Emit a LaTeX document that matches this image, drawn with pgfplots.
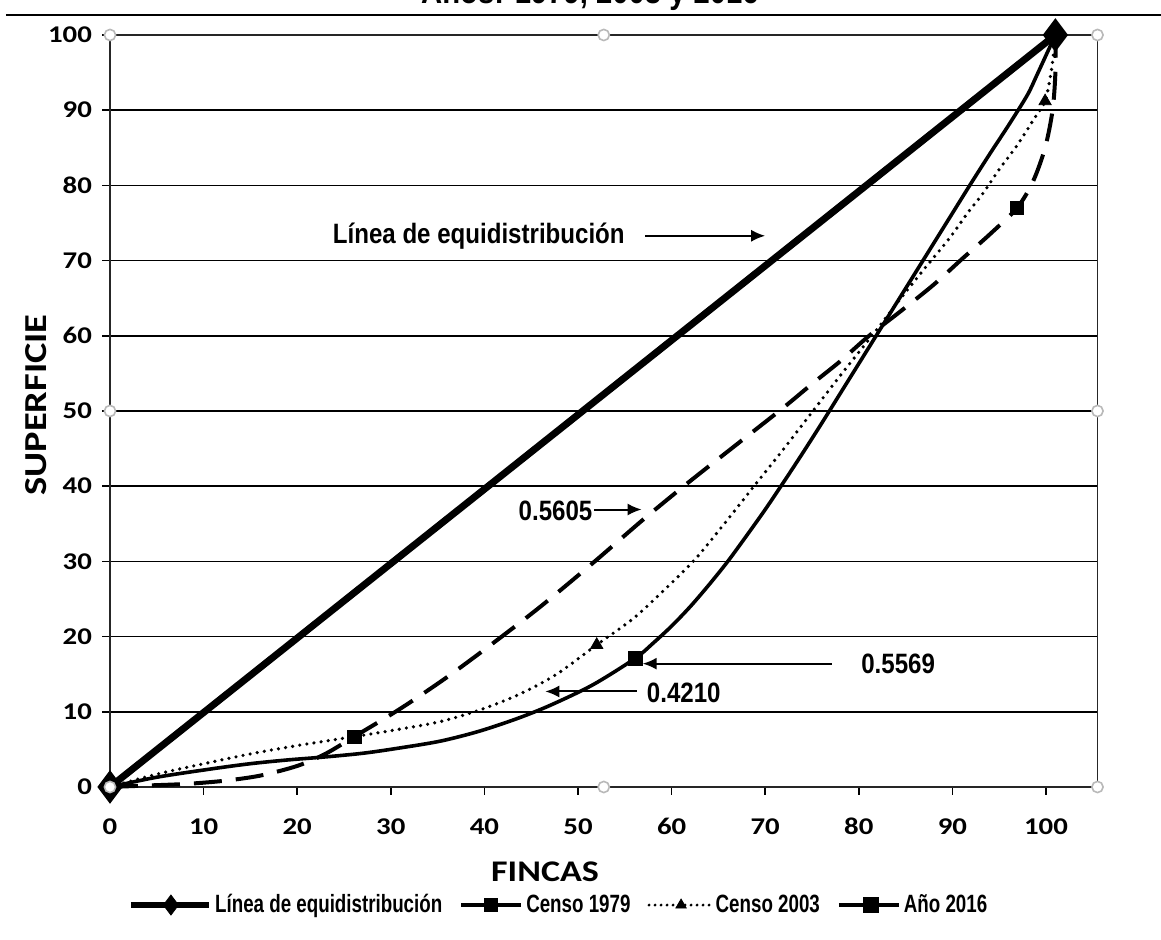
\documentclass[border=0pt]{standalone}
\usepackage{fontspec}
\setmainfont{Liberation Sans}
\newfontfamily\tickfont{Carlito}[FakeStretch=1.2]
\newfontfamily\annfont{Liberation Sans}[FakeStretch=0.86]
\newfontfamily\legfont{Liberation Sans}[FakeStretch=0.75]
\usepackage{pgfplots}
\pgfplotsset{compat=1.18}
\usetikzlibrary{arrows.meta}
\begin{document}
\begin{tikzpicture}
\begin{axis}[
  at={(0pt,0pt)}, anchor=south west,
  scale only axis, width=493.75pt, height=376pt,
  xmin=0, xmax=105.5, ymin=0, ymax=100,
  xtick={0,10,...,100}, ytick={0,10,...,100},
  xtick pos=bottom, ytick pos=left, tick align=outside,
  major tick length=4pt,
  tick style={black, line width=0.8pt},
  ymajorgrids, grid style={black, line width=0.8pt},
  axis line style={black!85, line width=0.8pt},
  /pgf/number format/assume math mode=true,
  tick label style={font=\tickfont\bfseries\fontsize{12}{12}\selectfont},
  xticklabel style={anchor=base, yshift=-20pt},
  yticklabel style={anchor=east, xshift=-1.5pt},
  clip=false,
  legend columns=4,
  legend style={at={(axis description cs:0.4547,-0.157)}, anchor=center, draw=none, fill=none,
    font=\legfont\bfseries\fontsize{12.5}{12.5}\selectfont, inner sep=0pt,
    nodes={inner sep=1.5pt},
    /tikz/every even column/.append style={column sep=7pt}},
  legend cell align=left,
]
% Linea de equidistribucion
\addplot[line width=3.5pt, mark=diamond*, mark size=5.5pt, forget plot] coordinates {(0,0) (101,100)};
% Censo 1979
\addplot[line width=2pt, dash pattern=on 14pt off 7pt, smooth, tension=0.5, forget plot] coordinates {
(0,0) (4,0.2) (8,0.4) (12,0.8) (16,1.5) (20,2.8) (23,4.4) (26.1,6.7) (31,10.4) (36,14.6) (41,19.2)
(46,24) (51.6,29.8) (57,35.6) (61.8,40.5) (67,45.6) (71.9,50.4) (75,53.6) (78,56.6) (81,59.9)
(84.4,63.2) (88,66.8) (91.1,70.3) (94,73.5) (96.9,77) (98.6,80.5) (99.9,85) (100.7,90) (101,95) (101,100)};
\addplot[only marks, mark=square*, mark size=3.3pt, forget plot] coordinates {(26.1,6.7) (96.9,77)};
% Censo 2003
\addplot[line width=1.8pt, dash pattern=on 0pt off 3.6pt, line cap=round, smooth, tension=0.5, forget plot] coordinates {
(0,0) (5,1.7) (10.8,3.3) (15,4.4) (19,5.3) (23,6.1) (27.1,6.9) (31,7.7) (35.3,8.7) (39.4,10.2) (43.5,12.2)
(47.6,14.9) (52,18.9) (55.7,22.2) (58.2,25) (62.3,30) (65.5,34.8) (68.8,40) (72,45) (75.1,50) (78.2,55)
(81.4,60) (84,64.2) (86.8,68.6) (89.7,73) (91.6,76.3) (93.3,79) (95.1,82.3) (96.9,85.3) (98.8,89) (99.9,91.2)
(100.6,95.5) (101,100)};
\addplot[only marks, mark=triangle*, mark size=3.5pt, forget plot] coordinates {(52,18.9) (99.9,91.2)};
% Ano 2016
\addplot[line width=1.8pt, smooth, tension=0.5, forget plot] coordinates {
(0,0) (5,1.3) (10.8,2.4) (15,3.1) (19,3.6) (23,4) (27.1,4.5) (31,5.2) (35.3,6.1) (39.4,7.4) (43.5,9.1)
(47.1,10.9) (51.6,13.6) (56.1,17.1) (58,19.1) (60,21.4) (62,24) (64,26.9) (66,30) (68,33.4) (70,36.9)
(72,40.6) (74,44.4) (76,48.3) (78,52.3) (80,56.3) (82,60.3) (84,64.3) (86,68.3) (88,72.3) (90,76.3)
(92,80.3) (94,84.2) (96,88) (98,92) (99,94.6) (100,97.3) (101,100)};
\addplot[only marks, mark=square*, mark size=3.5pt, forget plot] coordinates {(56.1,17.1)};
% plot-area handles
\addplot[only marks, mark=*, mark size=2.8pt, draw=gray!55, fill=white, line width=0.8pt, forget plot] coordinates {
(0,0) (52.75,0) (105.5,0) (0,50) (105.5,50) (0,100) (52.75,100) (105.5,100)};
% legend
\addlegendimage{legend image code/.code={\draw[line width=3.2pt] (0pt,0pt)--(39pt,0pt);
  \draw plot[mark=diamond*, mark size=5pt] coordinates {(20pt,0pt)};}}
\addlegendentry{Línea de equidistribución}
\addlegendimage{legend image code/.code={\draw[line width=2pt] (0pt,0pt)--(30pt,0pt);
  \draw plot[mark=square*, mark size=3.3pt] coordinates {(15pt,0pt)};}}
\addlegendentry{Censo 1979}
\addlegendimage{legend image code/.code={\draw[line width=1.6pt, dash pattern=on 0pt off 3pt, line cap=round] (0pt,0pt)--(31pt,0pt);
  \draw plot[mark=triangle*, mark size=3pt] coordinates {(16pt,0pt)};}}
\addlegendentry{Censo 2003}
\addlegendimage{legend image code/.code={\draw[line width=2pt] (0pt,0pt)--(30pt,0pt);
  \draw plot[mark=square*, mark size=3.8pt] coordinates {(16pt,0pt)};}}
\addlegendentry{Año 2016}
% annotations
\node[font=\annfont\bfseries\fontsize{14}{14}\selectfont] at (axis cs:39.4,73.3) {Línea de equidistribución};
\draw[line width=1pt, -{Latex[length=7pt,width=6pt]}] (axis cs:57.2,73.3) -- (axis cs:70,73.3);
\node[font=\annfont\bfseries\fontsize{14}{14}\selectfont] at (axis cs:47.6,36.7) {0.5605};
\draw[line width=1pt, -{Latex[length=7pt,width=6pt]}] (axis cs:51.7,36.9) -- (axis cs:56.8,36.9);
\node[font=\annfont\bfseries\fontsize{14}{14}\selectfont] at (axis cs:61.3,12.5) {0.4210};
\draw[line width=1pt, -{Latex[length=7pt,width=6pt]}] (axis cs:56.3,12.7) -- (axis cs:46.5,12.7);
\node[font=\annfont\bfseries\fontsize{14}{14}\selectfont] at (axis cs:84.2,16.4) {0.5569};
\draw[line width=1pt, -{Latex[length=7pt,width=6pt]}] (axis cs:77.1,16.4) -- (axis cs:56.9,16.4);
\end{axis}
\node[font=\tickfont\bfseries\fontsize{16}{16}\selectfont, rotate=90] at (-37pt,191pt) {SUPERFICIE};
\node[font=\tickfont\bfseries\fontsize{15}{15}\selectfont] at (217.5pt,-42.5pt) {FINCAS};
\draw[line width=1.2pt] (-52pt,386pt) -- (525.5pt,386pt);
\node[font=\annfont\bfseries\fontsize{17}{17}\selectfont, anchor=base, inner sep=0pt] at (240pt,391.5pt) {Años: 1979, 2003 y 2016};
\pgfresetboundingbox
\useasboundingbox (-55pt,-76.5pt) rectangle (525.5pt,393.5pt);
\end{tikzpicture}
\end{document}
